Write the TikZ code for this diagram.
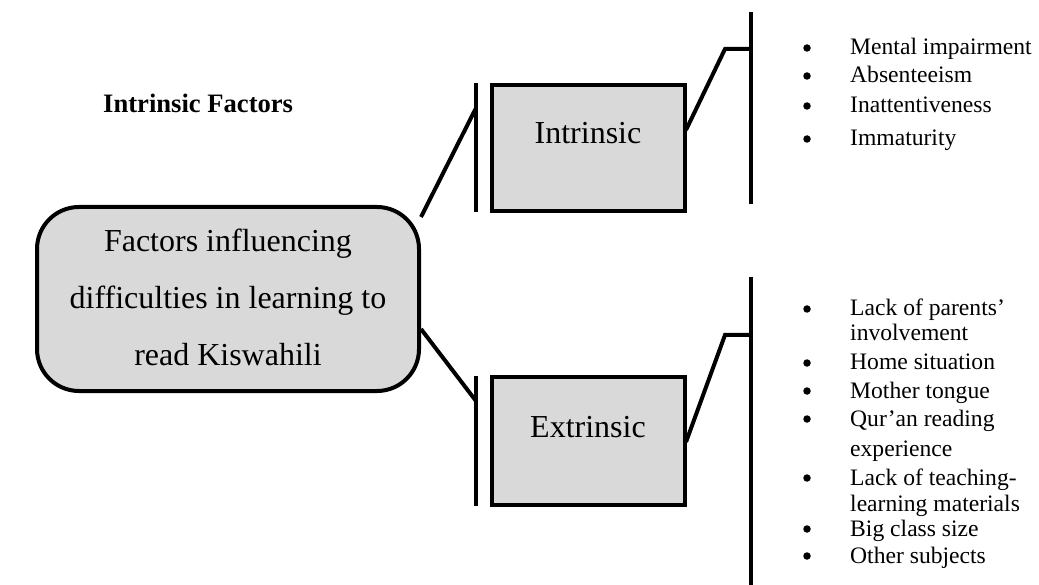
\documentclass[tikz,border=0pt]{standalone}
\usepackage{fontspec}
\setmainfont{Liberation Serif}
\begin{document}
\begin{tikzpicture}[x=1pt,y=-1pt,
  box/.style={draw,line width=4pt,fill=gray!30},
  conn/.style={line width=4pt},
  bar/.style={line width=4pt},
  item/.style={anchor=base west,inner sep=0pt,font=\fontsize{23.6}{26}\selectfont},
  bul/.style={circle,fill=black,inner sep=0pt,minimum size=7.5pt}]
\useasboundingbox (0,0) rectangle (1039,585);
% main box
\node[box,rounded corners=42pt,minimum width=382pt,minimum height=184pt,inner sep=0pt] (main) at (228,299) {};
\node[align=center,font=\fontsize{32}{57}\selectfont,inner sep=0pt] (maintext) at (228,297) {Factors influencing\\difficulties in learning to\\read Kiswahili};
% intrinsic / extrinsic boxes
\node[box,minimum width=193pt,minimum height=126pt,inner sep=0pt] (intr) at (588.5,148) {};
\node[font=\fontsize{32}{38}\selectfont,inner sep=0pt] (intrt) at (588,133) {Intrinsic};
\node[box,minimum width=193pt,minimum height=128pt,inner sep=0pt] (extr) at (588.5,441) {};
\node[font=\fontsize{32}{38}\selectfont,inner sep=0pt] (extrt) at (588,427) {Extrinsic};
% left bars
\coordinate (bi1) at (476,83);
\coordinate (bi2) at (476,212);
\coordinate (be1) at (476,376);
\coordinate (be2) at (476,506);
\draw[bar] (bi1) -- (bi2);
\draw[bar] (be1) -- (be2);
% connectors from main
\coordinate (mi) at (421,217);
\coordinate (me) at (421,329);
\coordinate (bic) at (476,108);
\coordinate (bec) at (476,401);
\draw[conn] (mi) -- (bic);
\draw[conn] (me) -- (bec);
% right bars
\coordinate (ri1) at (751,12);
\coordinate (ri2) at (751,204);
\coordinate (re1) at (751,277);
\coordinate (re2) at (751,585);
\draw[bar] (ri1) -- (ri2);
\draw[bar] (re1) -- (re2);
% right connectors
\coordinate (ia) at (686,130);
\coordinate (ib) at (725,49);
\coordinate (ic) at (751,49);
\draw[conn,line join=miter] (ia) -- (ib) -- (ic);
\coordinate (ea) at (686,442);
\coordinate (eb) at (725,335);
\coordinate (ec) at (751,335);
\draw[conn,line join=miter] (ea) -- (eb) -- (ec);
% heading
\node[anchor=base west,inner sep=0pt,font=\fontsize{26.6}{30}\selectfont\bfseries] (head) at (103,113) {Intrinsic Factors};
% intrinsic list
\foreach \t/\y [count=\i] in {Mental impairment/55,Absenteeism/83,Inattentiveness/113,Immaturity/146}{
  \node[bul] (ib\i) at (807,\y-7) {};
  \node[item] (it\i) at (850,\y) {\t};
}
% extrinsic list
\foreach \t/\y [count=\i] in {Lack of parents’/316,Home situation/370,Mother tongue/398,Qur’an reading/426,Lack of teaching-/485,Big class size/536,Other subjects/563}{
  \node[bul] (eb\i) at (807,\y-7) {};
}
\foreach \t/\y [count=\i] in {Lack of parents’/316,involvement/341,Home situation/370,Mother tongue/398,Qur’an reading/426,experience/456,Lack of teaching-/485,learning materials/511,Big class size/536,Other subjects/563}{
  \node[item] (et\i) at (850,\y) {\t};
}
\end{tikzpicture}
\end{document}
